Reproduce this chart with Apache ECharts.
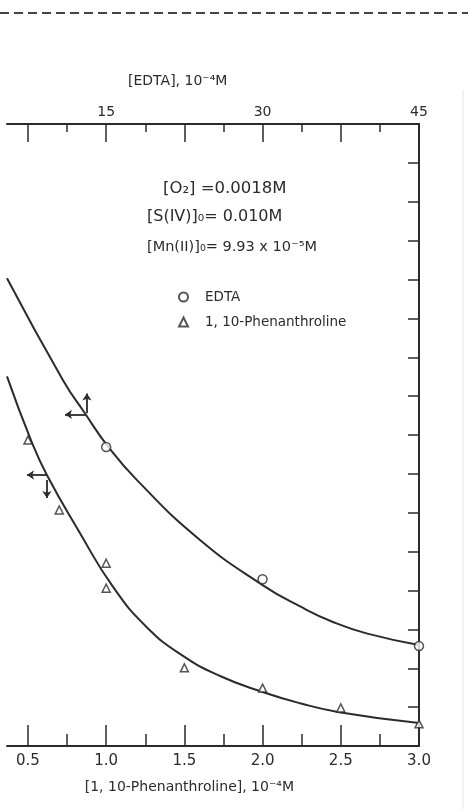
<!DOCTYPE html>
<html>
<head>
<meta charset="utf-8">
<script src="https://cdn.jsdelivr.net/npm/echarts@6/dist/echarts.min.js"></script>
<style>
html,body{margin:0;padding:0;background:#fff;}
#c{width:468px;height:809px;}
</style>
</head>
<body>
<div id="c"></div>
<script>
// ---- data (x in [1,10-Phenanthroline] 10^-4 M; EDTA axis = 15 x) ----
var edtaX = [1.0, 2.0, 3.0];
var edtaY = [7.69, 4.29, 2.57];
var phenX = [0.5, 0.7, 1.0, 1.0, 1.5, 2.0, 2.5, 3.0];
var phenY = [7.87, 6.07, 4.70, 4.06, 2.01, 1.49, 0.98, 0.57];
var edtaCurveX = [0.366, 0.724, 0.864, 1.005, 1.197, 1.6, 2.0, 2.24, 2.45, 2.67, 3.0];
var edtaCurveY = [12.03, 9.41, 8.56, 7.74, 6.84, 5.30, 4.14, 3.59, 3.19, 2.89, 2.60];
var phenCurveX = [0.366, 0.519, 0.621, 0.832, 1.043, 1.261, 1.491, 1.728, 2.0, 2.24, 2.49, 3.0];
var phenCurveY = [9.51, 7.87, 6.97, 5.48, 4.10, 3.05, 2.32, 1.80, 1.39, 1.10, 0.87, 0.59];
// arrow annotations: [x1, y1, x2, y2] (arrow head at the second point)
var arrowSegs = [
  [0.871, 8.53, 0.737, 8.53],
  [0.877, 8.56, 0.877, 9.07],
  [0.621, 6.97, 0.494, 6.97],
  [0.621, 6.84, 0.621, 6.38]
];
var bottomMajor = [0.5, 1.0, 1.5, 2.0, 2.5, 3.0];
var bottomMinor = [0.75, 1.25, 1.75, 2.25, 2.75];
var topMajor = [7.5, 15, 22.5, 30, 37.5, 45];
var topMinor = [11.25, 18.75, 26.25, 33.75, 41.25];
var topLabels = [15, 30, 45];
var xMin = 0.366, xMax = 3.0;
var yMin = 0, yMax = 16;

var INK = '#2b2b2b';
var FONT = '"DejaVu Sans", "Liberation Sans", sans-serif';

function zip(a, b) { return a.map(function (v, i) { return [v, b[i]]; }); }

var chart = echarts.init(document.getElementById('c'), null, {renderer: 'canvas'});

var axisLine = {show: true, lineStyle: {color: INK, width: 2}};

var option = {
  backgroundColor: '#ffffff',
  animation: false,
  grid: {left: 7, right: 49, top: 124, bottom: 63, containLabel: false},
  legend: {
    data: ['EDTA', '1, 10-Phenanthroline'],
    orient: 'vertical',
    left: 173, top: 284,
    itemWidth: 9, itemHeight: 9, itemGap: 9,
    textStyle: {fontSize: 13.5, fontFamily: FONT, color: INK, padding: [0, 0, 0, 12], lineHeight: 16}
  },
  xAxis: [
    {
      type: 'value', position: 'bottom', min: xMin, max: xMax,
      axisLine: axisLine,
      axisTick: {show: true, inside: true, length: 21, customValues: bottomMajor, lineStyle: {color: INK, width: 1.5}},
      axisLabel: {show: true, customValues: bottomMajor, margin: 8, fontSize: 15, fontFamily: FONT, color: INK,
        formatter: function (v) { return v.toFixed(1); }},
      splitLine: {show: false}
    },
    {
      type: 'value', position: 'bottom', min: xMin, max: xMax,
      axisLine: {show: false},
      axisTick: {show: true, inside: true, length: 12, customValues: bottomMinor, lineStyle: {color: INK, width: 1.5}},
      axisLabel: {show: false},
      splitLine: {show: false}
    },
    {
      type: 'value', position: 'top', min: xMin * 15, max: xMax * 15,
      axisLine: axisLine,
      axisTick: {show: true, inside: true, length: 18, customValues: topMajor, lineStyle: {color: INK, width: 1.5}},
      axisLabel: {show: true, customValues: topLabels, margin: 5, fontSize: 14, fontFamily: FONT, color: INK},
      splitLine: {show: false}
    },
    {
      type: 'value', position: 'top', min: xMin * 15, max: xMax * 15,
      axisLine: {show: false},
      axisTick: {show: true, inside: true, length: 8, customValues: topMinor, lineStyle: {color: INK, width: 1.5}},
      axisLabel: {show: false},
      splitLine: {show: false}
    }
  ],
  yAxis: [
    {
      type: 'value', position: 'right', min: yMin, max: yMax, interval: 1,
      axisLine: axisLine,
      axisTick: {show: true, inside: true, length: 11, lineStyle: {color: INK, width: 1.5}},
      axisLabel: {show: false},
      splitLine: {show: false}
    }
  ],
  graphic: [
    {type: 'line', shape: {x1: 0, y1: 13, x2: 468, y2: 13}, style: {stroke: '#444', lineWidth: 2, lineDash: [9, 5]}, silent: true},
    {type: 'line', shape: {x1: 463, y1: 90, x2: 463, y2: 809}, style: {stroke: '#e6e6e6', lineWidth: 1}, silent: true},
    {type: 'text', left: 128, top: 74, style: {text: '[EDTA], 10⁻⁴M', font: '14px ' + FONT, fill: INK}},
    {type: 'text', right: 468 - 294, top: 780, style: {text: '[1, 10-Phenanthroline], 10⁻⁴M', font: '14px ' + FONT, fill: INK}},
    {type: 'text', left: 163, top: 180, style: {text: '[O₂] =0.0018M', font: '16.5px ' + FONT, fill: INK}},
    {type: 'text', left: 147, top: 209, style: {text: '[S(IV)]₀= 0.010M', font: '16px ' + FONT, fill: INK}},
    {type: 'text', left: 147, top: 240, style: {text: '[Mn(II)]₀= 9.93 x 10⁻⁵M', font: '14.5px ' + FONT, fill: INK}}
  ],
  series: [
    {
      name: 'EDTA curve', type: 'line', data: zip(edtaCurveX, edtaCurveY),
      xAxisIndex: 0, yAxisIndex: 0, smooth: 0.5, showSymbol: false, symbol: 'none',
      lineStyle: {color: INK, width: 2}, z: 2, silent: true
    },
    {
      name: 'Phen curve', type: 'line', data: zip(phenCurveX, phenCurveY),
      xAxisIndex: 0, yAxisIndex: 0, smooth: 0.5, showSymbol: false, symbol: 'none',
      lineStyle: {color: INK, width: 2}, z: 2, silent: true
    },
    {
      name: 'EDTA', type: 'scatter', data: zip(edtaX, edtaY), xAxisIndex: 0, yAxisIndex: 0,
      symbol: 'circle', symbolSize: 9,
      itemStyle: {color: '#ffffff', borderColor: INK, borderWidth: 1.5}, z: 5
    },
    {
      name: '1, 10-Phenanthroline', type: 'scatter', data: zip(phenX, phenY), xAxisIndex: 0, yAxisIndex: 0,
      symbol: 'triangle', symbolSize: 8,
      itemStyle: {color: '#ffffff', borderColor: INK, borderWidth: 1.5}, z: 5
    },
    {
      name: 'arrows', type: 'lines', coordinateSystem: 'cartesian2d', xAxisIndex: 0, yAxisIndex: 0,
      symbol: ['none', 'arrow'], symbolSize: 7,
      lineStyle: {color: INK, width: 1.8, opacity: 1},
      data: arrowSegs.map(function (s) { return {coords: [[s[0], s[1]], [s[2], s[3]]]}; }),
      z: 4, silent: true
    }
  ]
};
chart.setOption(option);
</script>
</body>
</html>
